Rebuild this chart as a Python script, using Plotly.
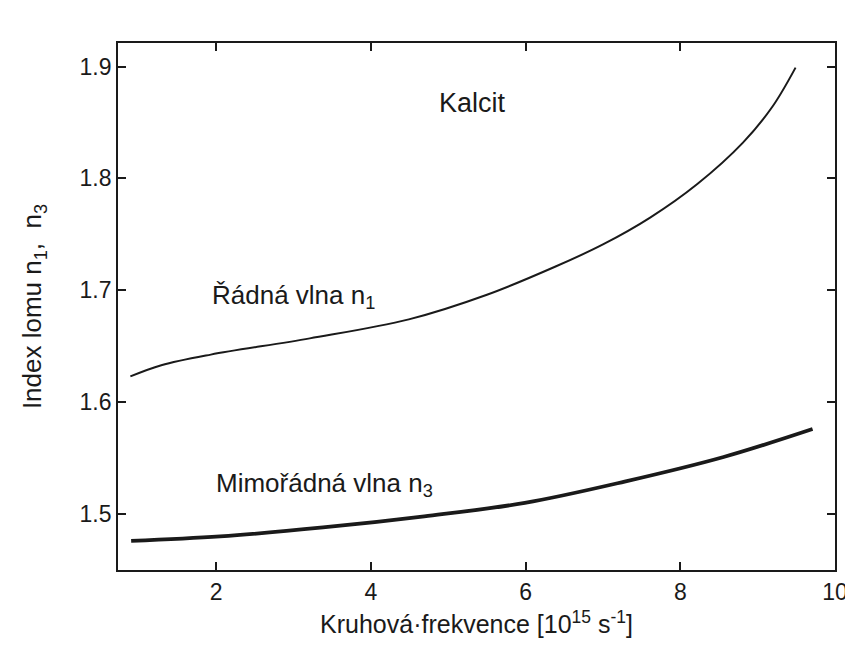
import plotly.graph_objects as go

# Ordinary wave n1
omega_n1 = [0.89, 1.29, 1.93, 3.21, 4.49, 5.50, 6.38, 7.00, 7.61, 8.22, 8.81, 9.19, 9.49]
n1 = [1.623, 1.633, 1.6425, 1.657, 1.674, 1.696, 1.721, 1.741, 1.765, 1.795, 1.832, 1.864, 1.899]

# Extraordinary wave n3
omega_n3 = [0.90, 2.05, 3.38, 4.69, 5.99, 7.28, 8.56, 9.71]
n3 = [1.476, 1.480, 1.488, 1.498, 1.510, 1.529, 1.551, 1.576]

x_ticks = [2, 4, 6, 8, 10]
y_ticks = [1.5, 1.6, 1.7, 1.8, 1.9]

FONT = "Liberation Sans, Arial, Helvetica, sans-serif"
INK = "#1a1a1a"

fig = go.Figure()
fig.add_trace(go.Scatter(x=omega_n1, y=n1, mode="lines",
                         line=dict(color=INK, width=2, shape="spline", smoothing=1.0),
                         showlegend=False, hoverinfo="skip"))
fig.add_trace(go.Scatter(x=omega_n3, y=n3, mode="lines",
                         line=dict(color=INK, width=3.8, shape="spline", smoothing=1.0),
                         showlegend=False, hoverinfo="skip"))

fig.add_annotation(x=5.31, y=1.867, xref="x", yref="y", text="Kalcit", showarrow=False,
                   font=dict(family=FONT, size=27, color=INK))
fig.add_annotation(x=3.0, y=1.694, xref="x", yref="y", text="Řádná vlna n<sub>1</sub>", showarrow=False,
                   font=dict(family=FONT, size=26, color=INK))
fig.add_annotation(x=3.4, y=1.526, xref="x", yref="y", text="Mimořádná vlna n<sub>3</sub>", showarrow=False,
                   font=dict(family=FONT, size=26, color=INK))

fig.update_xaxes(range=[0.73, 10], tickvals=x_ticks, ticktext=[str(v) for v in x_ticks],
                 ticks="inside", ticklen=8, tickwidth=1.5, tickcolor=INK,
                 showline=True, linecolor=INK, linewidth=1.8, mirror="ticks",
                 showgrid=False, zeroline=False,
                 tickfont=dict(family=FONT, size=23, color=INK),
                 title=dict(text="Kruhová·frekvence [10<sup>15</sup> s<sup>-1</sup>]",
                            font=dict(family=FONT, size=25, color=INK), standoff=12))
fig.update_yaxes(range=[1.45, 1.921], tickvals=y_ticks, ticktext=[f"{v:.1f}" for v in y_ticks],
                 ticks="inside", ticklen=8, tickwidth=1.5, tickcolor=INK,
                 showline=True, linecolor=INK, linewidth=1.8, mirror="ticks",
                 showgrid=False, zeroline=False,
                 tickfont=dict(family=FONT, size=23, color=INK),
                 title=dict(text="Index lomu n<sub>1</sub>,  n<sub>3</sub>",
                            font=dict(family=FONT, size=26, color=INK), standoff=30))

fig.update_layout(width=853, height=666, margin=dict(l=110, r=26, t=35, b=104),
                  paper_bgcolor="white", plot_bgcolor="white")

fig.write_html("out.html")
